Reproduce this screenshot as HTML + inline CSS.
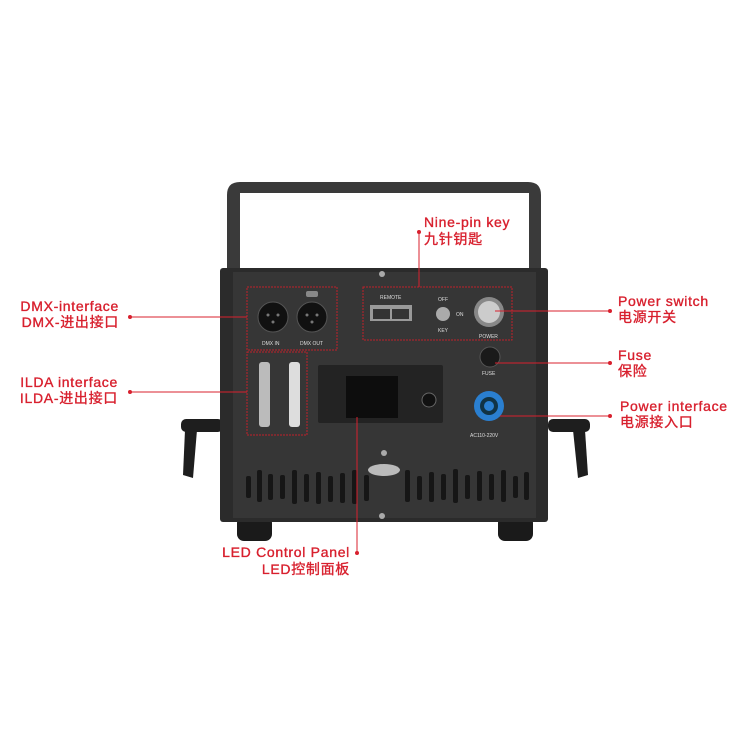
<!DOCTYPE html>
<html><head><meta charset="utf-8"><style>
html,body{margin:0;padding:0;background:#fff;}
svg{display:block}
text{font-family:"Liberation Sans","Noto Sans CJK SC",sans-serif;fill:#d8202e;font-size:14px;letter-spacing:0.7px;stroke:#d8202e;stroke-width:0.35px}
.w{fill:#ddd;stroke:none;font-size:5px;letter-spacing:0}
</style></head><body>
<svg width="750" height="750" viewBox="0 0 750 750" xmlns="http://www.w3.org/2000/svg">
<rect width="750" height="750" fill="#fff"/>
<path d="M227,268 V195 Q227,182 240,182 H528 Q541,182 541,195 V268 H529 V193 H240 V268 Z" fill="#3a3a3a"/>
<g fill="#1e1e1e">
<rect x="181" y="419" width="42" height="13" rx="5"/>
<path d="M185,430 L197,430 L193,478 L183,475 Z"/>
<rect x="548" y="419" width="42" height="13" rx="5"/>
<path d="M573,430 L585,430 L588,475 L578,478 Z"/>
</g>
<rect x="237" y="516" width="35" height="25" rx="7" fill="#1a1a1a"/>
<rect x="498" y="516" width="35" height="25" rx="7" fill="#1a1a1a"/>
<rect x="220" y="268" width="328" height="254" rx="3" fill="#2b2b2b"/>
<rect x="233" y="272" width="303" height="246" fill="#363636"/>
<circle cx="273" cy="317" r="15" fill="#111" stroke="#555"/>
<circle cx="312" cy="317" r="15" fill="#111" stroke="#555"/>
<g fill="#777"><circle cx="268" cy="315" r="1.5"/><circle cx="278" cy="315" r="1.5"/><circle cx="273" cy="322" r="1.5"/><circle cx="307" cy="315" r="1.5"/><circle cx="317" cy="315" r="1.5"/><circle cx="312" cy="322" r="1.5"/></g>
<rect x="306" y="291" width="12" height="6" rx="2" fill="#888"/>
<text class="w" x="262" y="345">DMX IN</text><text class="w" x="300" y="345">DMX OUT</text>
<rect x="370" y="305" width="42" height="16" fill="#999"/>
<rect x="373" y="309" width="17" height="10" fill="#333"/><rect x="392" y="309" width="17" height="10" fill="#333"/>
<text class="w" x="380" y="299">REMOTE</text>
<circle cx="443" cy="314" r="7" fill="#aaa"/>
<text class="w" x="438" y="301">OFF</text><text class="w" x="456" y="316">ON</text><text class="w" x="438" y="332">KEY</text>
<circle cx="489" cy="312" r="15" fill="#888"/><circle cx="489" cy="312" r="11" fill="#ccc"/>
<text class="w" x="479" y="338">POWER</text>
<circle cx="490" cy="357" r="10" fill="#1a1a1a" stroke="#555"/>
<text class="w" x="482" y="375">FUSE</text>
<circle cx="489" cy="406" r="15" fill="#2a7fd0"/><circle cx="489" cy="406" r="9" fill="#134"/><circle cx="489" cy="406" r="5" fill="#2a7fd0"/>
<text class="w" x="470" y="437">AC110-220V</text>
<rect x="259" y="362" width="11" height="65" rx="3" fill="#bbb"/>
<rect x="289" y="362" width="11" height="65" rx="3" fill="#ddd"/>
<rect x="318" y="365" width="125" height="58" rx="2" fill="#232323"/>
<rect x="346" y="376" width="52" height="42" fill="#0d0d0d"/>
<circle cx="429" cy="400" r="7" fill="#111" stroke="#666"/>
<g fill="#161616">
<rect x="246" y="476" width="5" height="22" rx="2"/><rect x="257" y="470" width="5" height="32" rx="2"/><rect x="268" y="474" width="5" height="26" rx="2"/><rect x="280" y="475" width="5" height="24" rx="2"/><rect x="292" y="470" width="5" height="34" rx="2"/><rect x="304" y="474" width="5" height="28" rx="2"/><rect x="316" y="472" width="5" height="32" rx="2"/><rect x="328" y="476" width="5" height="26" rx="2"/><rect x="340" y="473" width="5" height="30" rx="2"/><rect x="352" y="470" width="5" height="34" rx="2"/><rect x="364" y="475" width="5" height="26" rx="2"/><rect x="405" y="470" width="5" height="32" rx="2"/><rect x="417" y="476" width="5" height="24" rx="2"/><rect x="429" y="472" width="5" height="30" rx="2"/><rect x="441" y="474" width="5" height="26" rx="2"/><rect x="453" y="469" width="5" height="34" rx="2"/><rect x="465" y="475" width="5" height="24" rx="2"/><rect x="477" y="471" width="5" height="30" rx="2"/><rect x="489" y="474" width="5" height="26" rx="2"/><rect x="501" y="470" width="5" height="32" rx="2"/><rect x="513" y="476" width="5" height="22" rx="2"/><rect x="524" y="472" width="5" height="28" rx="2"/>
</g>
<ellipse cx="384" cy="470" rx="16" ry="6" fill="#bbb"/>
<g fill="#aaa"><circle cx="382" cy="274" r="3"/><circle cx="382" cy="516" r="3"/><circle cx="384" cy="453" r="3"/></g>
<g fill="none" stroke="#c0202a" stroke-width="1" stroke-dasharray="2,1">
<rect x="247" y="287" width="90" height="63"/>
<rect x="363" y="287" width="149" height="53"/>
<rect x="247" y="352" width="60" height="83"/>
</g>
<g stroke="#d8202e" stroke-width="1" fill="none">
<line x1="130" y1="317" x2="247" y2="317"/>
<line x1="130" y1="392" x2="247" y2="392"/>
<line x1="419" y1="232" x2="419" y2="287"/>
<line x1="495" y1="311" x2="610" y2="311"/>
<line x1="495" y1="363" x2="610" y2="363"/>
<line x1="500" y1="416" x2="610" y2="416"/>
<line x1="357" y1="417" x2="357" y2="553"/>
</g>
<g fill="#d8202e">
<circle cx="130" cy="317" r="2"/><circle cx="130" cy="392" r="2"/><circle cx="419" cy="232" r="2"/>
<circle cx="610" cy="311" r="2"/><circle cx="610" cy="363" r="2"/><circle cx="610" cy="416" r="2"/><circle cx="357" cy="553" r="2"/>
</g>
<text x="119" y="311" text-anchor="end">DMX-interface</text>
<text x="119" y="327" text-anchor="end">DMX-进出接口</text>
<text x="118" y="387" text-anchor="end">ILDA interface</text>
<text x="118" y="403" text-anchor="end">ILDA-进出接口</text>
<text x="424" y="227">Nine-pin key</text>
<text x="424" y="244">九针钥匙</text>
<text x="618" y="306">Power switch</text>
<text x="618" y="322">电源开关</text>
<text x="618" y="360">Fuse</text>
<text x="618" y="376">保险</text>
<text x="620" y="411">Power interface</text>
<text x="620" y="427">电源接入口</text>
<text x="350" y="557" text-anchor="end">LED Control Panel</text>
<text x="350" y="574" text-anchor="end">LED控制面板</text>
</svg>
</body></html>
